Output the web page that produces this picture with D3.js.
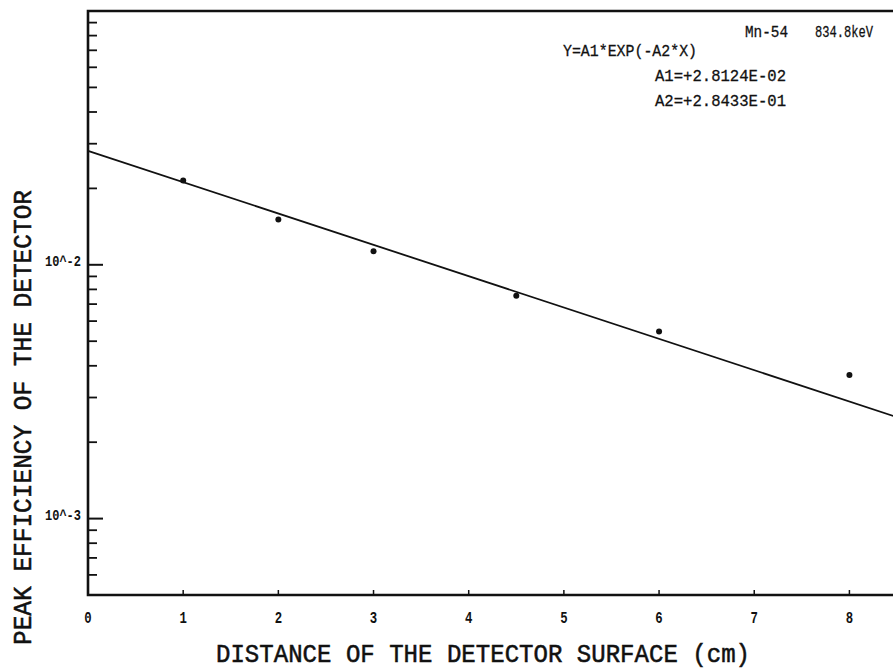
<!DOCTYPE html>
<html>
<head>
<meta charset="utf-8">
<script src="https://cdn.jsdelivr.net/npm/d3@7/dist/d3.min.js"></script>
<style>
  html, body { margin: 0; padding: 0; background: #fff; }
  svg { display: block; }
  text { font-family: "Liberation Mono", "DejaVu Sans Mono", monospace; fill: #111; }
</style>
</head>
<body>
<svg id="chart" width="893" height="671"></svg>
<script>
// Measured peak efficiency of the detector vs. source distance (Mn-54, 834.8 keV)
const distance   = [1, 2, 3, 4.5, 6, 8];
const efficiency = [0.0215, 0.0151, 0.0113, 0.00755, 0.00546, 0.00368];

// Fitted exponential Y = A1*EXP(-A2*X)
const A1 = 2.8124e-2;
const A2 = 2.8433e-1;

const xTickValues = [0, 1, 2, 3, 4, 5, 6, 7, 8];
const yMajorTicks = [1e-3, 1e-2];
const yMajorLabels = ["10^-3", "10^-2"];

const headerLines = [
  { text: "Mn-54",            x: 745, y: 37,  w: 43 },
  { text: "834.8keV",         x: 815, y: 37,  w: 58 },
  { text: "Y=A1*EXP(-A2*X)",  x: 563, y: 56,  w: 134 },
  { text: "A1=+2.8124E-02",   x: 655, y: 81,  w: 131 },
  { text: "A2=+2.8433E-01",   x: 655, y: 106, w: 131 }
];

const svg = d3.select("#chart");
const plotLeft = 88, plotTop = 11, plotBottom = 595, plotRight = 897;

const x = d3.scaleLinear().domain([0, 8.5]).range([plotLeft, plotRight]);
const y = d3.scaleLog().domain([5e-4, 1e-1]).range([plotBottom, plotTop]);

const ink = "#111";

// log-scale minor ticks: 2..9 times each decade, inside the frame
const minorTicks = [];
[1e-4, 1e-3, 1e-2].forEach(d => {
  for (let k = 2; k <= 9; k++) {
    const v = k * d;
    if (v >= 5e-4 && v < 1e-1) minorTicks.push(v);
  }
});

svg.append("g").selectAll("line")
  .data(minorTicks).join("line")
  .attr("x1", plotLeft).attr("x2", plotLeft + 9)
  .attr("y1", d => y(d)).attr("y2", d => y(d))
  .attr("stroke", ink).attr("stroke-width", 1.8);

svg.append("g").selectAll("line")
  .data(yMajorTicks).join("line")
  .attr("x1", plotLeft).attr("x2", plotLeft + 15)
  .attr("y1", d => y(d)).attr("y2", d => y(d))
  .attr("stroke", ink).attr("stroke-width", 2);

// x ticks, pointing up from the bottom axis
svg.append("g").selectAll("line")
  .data(xTickValues.slice(1)).join("line")
  .attr("x1", d => x(d)).attr("x2", d => x(d))
  .attr("y1", plotBottom).attr("y2", plotBottom - 5)
  .attr("stroke", ink).attr("stroke-width", 1.5);

// frame: left axis, bottom axis, top border
svg.append("path")
  .attr("d", `M${plotRight},${plotTop}H${plotLeft}V${plotBottom}H${plotRight}`)
  .attr("fill", "none").attr("stroke", ink).attr("stroke-width", 2.6);

// x tick labels
svg.append("g").selectAll("text")
  .data(xTickValues).join("text")
  .attr("transform", d => `translate(${x(d)},${plotBottom + 28}) scale(0.95,1.3)`)
  .attr("text-anchor", "middle")
  .attr("font-size", 13).attr("font-weight", "bold")
  .text(d => d);

// y tick labels
svg.append("g").selectAll("text")
  .data(yMajorTicks).join("text")
  .attr("transform", d => `translate(45,${y(d) + 1}) scale(1,1.2)`)
  .attr("font-size", 12).attr("font-weight", "bold")
  .attr("textLength", 36).attr("lengthAdjust", "spacingAndGlyphs")
  .text((d, i) => yMajorLabels[i]);

// fitted line from the stated parameters
const fitEnds = [0, 8.5];
svg.append("path")
  .datum(fitEnds)
  .attr("d", d3.line().x(d => x(d)).y(d => y(A1 * Math.exp(-A2 * d))))
  .attr("fill", "none").attr("stroke", ink).attr("stroke-width", 1.8);

// measured points
svg.append("g").selectAll("circle")
  .data(distance).join("circle")
  .attr("cx", d => x(d))
  .attr("cy", (d, i) => y(efficiency[i]))
  .attr("r", 3).attr("fill", ink);

// header annotations
svg.append("g").selectAll("text")
  .data(headerLines).join("text")
  .attr("transform", d => `translate(${d.x},${d.y}) scale(1,1.2)`)
  .attr("font-size", 14)
  .attr("textLength", d => d.w).attr("lengthAdjust", "spacingAndGlyphs")
  .attr("stroke", ink).attr("stroke-width", 0.25)
  .text(d => d.text);

// axis titles
svg.append("text")
  .attr("transform", `translate(216,662) scale(1,1.08)`)
  .attr("font-size", 24)
  .attr("stroke", ink).attr("stroke-width", 0.5)
  .attr("textLength", 534).attr("lengthAdjust", "spacingAndGlyphs")
  .text("DISTANCE OF THE DETECTOR SURFACE (cm)");

svg.append("text")
  .attr("transform", `translate(31,645) rotate(-90) scale(1,1.08)`)
  .attr("font-size", 24)
  .attr("stroke", ink).attr("stroke-width", 0.5)
  .attr("textLength", 455).attr("lengthAdjust", "spacingAndGlyphs")
  .text("PEAK EFFICIENCY OF THE DETECTOR");
</script>
</body>
</html>
